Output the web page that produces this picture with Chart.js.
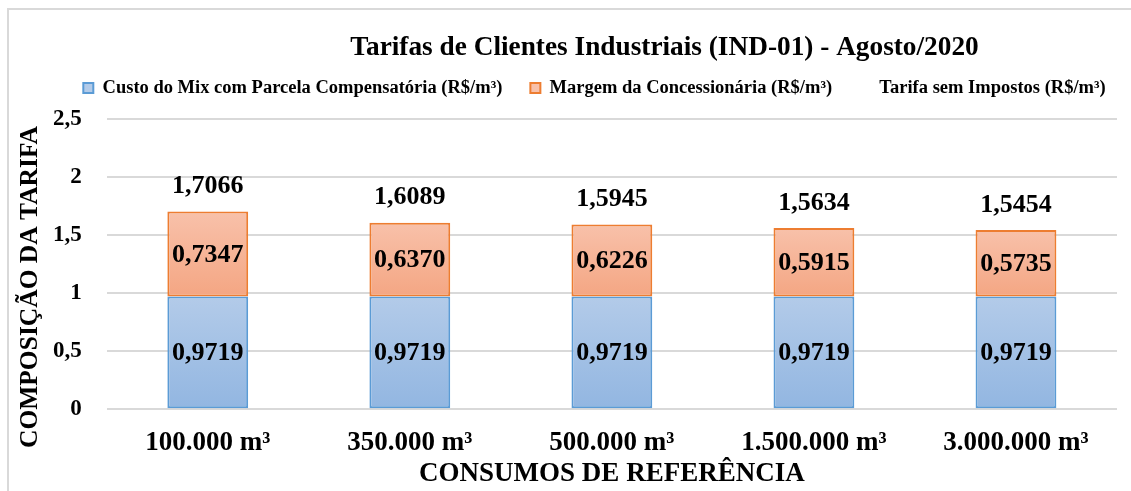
<!DOCTYPE html>
<html>
<head>
<meta charset="utf-8">
<script src="https://cdn.jsdelivr.net/npm/chart.js@4.4.1/dist/chart.umd.min.js"></script>
<style>
  html, body { margin: 0; padding: 0; background: #fff; }
  #frame { position: absolute; left: 7px; top: 8px; width: 1140px; height: 500px; border: 2px solid #d9d9d9; box-sizing: border-box; }
  #wrap { position: absolute; left: 0; top: 0; width: 1131px; height: 491px; }
</style>
</head>
<body>
<div id="frame"></div>
<div id="wrap"><canvas id="chartTarifas"></canvas></div>
<script>
// dados do gráfico
const consumos = ['100.000 m³', '350.000 m³', '500.000 m³', '1.500.000 m³', '3.000.000 m³'];
const custoMix = [0.9719, 0.9719, 0.9719, 0.9719, 0.9719];
const margem = [0.7347, 0.6370, 0.6226, 0.5915, 0.5735];
const tarifaSemImpostos = [1.7066, 1.6089, 1.5945, 1.5634, 1.5454];
const ticksY = ['0', '0,5', '1', '1,5', '2', '2,5'];
const tituloY = 'COMPOSIÇÃO DA TARIFA';

const FONTE = "'Liberation Serif', 'Times New Roman', serif";

function fmt(v) {
  return v.toFixed(4).replace('.', ',');
}

// gradiente vertical por barra (estilo Excel)
function gradiente(ctx, topoArr, baseArr, cTopo, cBase, fallback) {
  const chart = ctx.chart;
  const y = chart.scales && chart.scales.y;
  if (!y || !chart.chartArea || ctx.dataIndex === undefined) return fallback;
  const i = ctx.dataIndex;
  const yTop = y.getPixelForValue(topoArr[i]);
  const yBot = y.getPixelForValue(baseArr[i]);
  if (!isFinite(yTop) || !isFinite(yBot) || yTop === yBot) return fallback;
  const g = chart.ctx.createLinearGradient(0, yTop, 0, yBot);
  g.addColorStop(0, cTopo);
  g.addColorStop(1, cBase);
  return g;
}

const zeros = consumos.map(() => 0);

// título e legenda deslocados para a direita, como no original
const deslocar = {
  id: 'deslocar',
  afterLayout(chart) {
    if (chart.titleBlock) { chart.titleBlock.left += 92; chart.titleBlock.right += 92; }
    if (chart.legend) { chart.legend.left += 22; chart.legend.right += 22; }
  }
};

// título do eixo Y (posição do original, abaixo do centro)
const tituloEixoY = {
  id: 'tituloEixoY',
  afterDraw(chart) {
    const c = chart.ctx;
    c.save();
    c.translate(30, 287);
    c.rotate(-Math.PI / 2);
    c.font = 'bold 25.5px ' + FONTE;
    c.fillStyle = '#000';
    c.textAlign = 'center';
    c.textBaseline = 'middle';
    c.fillText(tituloY, 0, 0);
    c.restore();
  }
};

const rotulos = {
  id: 'rotulos',
  afterDatasetsDraw(chart) {
    const c = chart.ctx;
    c.save();
    c.font = 'bold 26px ' + FONTE;
    c.fillStyle = '#000';
    c.textAlign = 'center';
    c.textBaseline = 'middle';
    [0, 1].forEach(di => {
      const meta = chart.getDatasetMeta(di);
      meta.data.forEach((bar, i) => {
        const v = chart.data.datasets[di].data[i];
        c.fillText(fmt(v), bar.x, (bar.y + bar.base) / 2 + 1);
      });
    });
    const meta2 = chart.getDatasetMeta(2);
    meta2.data.forEach((pt, i) => {
      c.fillText(fmt(tarifaSemImpostos[i]), pt.x, pt.y - 25);
    });
    c.restore();
  }
};

new Chart(document.getElementById('chartTarifas'), {
  type: 'bar',
  data: {
    labels: consumos,
    datasets: [
      {
        label: 'Custo do Mix com Parcela Compensatória (R$/m³)',
        data: custoMix,
        backgroundColor: ctx => gradiente(ctx, custoMix, zeros, '#b3cbe9', '#92b6e1', '#a3c1e5'),
        borderColor: '#5b9bd5',
        borderWidth: 2,
        borderSkipped: false,
        stack: 's'
      },
      {
        label: 'Margem da Concessionária (R$/m³)',
        data: margem,
        backgroundColor: ctx => gradiente(ctx, tarifaSemImpostos, custoMix, '#f8c1aa', '#f4a683', '#f6b396'),
        borderColor: '#ed7d31',
        borderWidth: 2,
        borderSkipped: false,
        stack: 's'
      },
      {
        type: 'line',
        label: 'Tarifa sem Impostos (R$/m³)',
        data: tarifaSemImpostos,
        showLine: false,
        pointRadius: 0,
        borderColor: 'rgba(0,0,0,0)',
        backgroundColor: 'rgba(0,0,0,0)'
      }
    ]
  },
  options: {
    responsive: true,
    maintainAspectRatio: false,
    animation: false,
    layout: { padding: { left: 28, right: 14, top: 20, bottom: 1 } },
    datasets: { bar: { categoryPercentage: 0.8, barPercentage: 0.5 } },
    plugins: {
      tooltip: { enabled: false },
      title: {
        display: true,
        text: 'Tarifas de Clientes Industriais (IND-01) - Agosto/2020',
        color: '#000',
        font: { family: FONTE, size: 27.3, weight: 'bold' },
        padding: { top: 12, bottom: -14 }
      },
      // espaço vazio entre a legenda e a área do gráfico
      subtitle: {
        display: true,
        text: '',
        weight: 500,
        font: { size: 1 },
        padding: { top: 0, bottom: 11 }
      },
      legend: {
        position: 'top',
        labels: {
          color: '#000',
          font: { family: FONTE, size: 18.5, weight: 'bold' },
          boxWidth: 10,
          boxHeight: 10,
          padding: 28
        }
      }
    },
    scales: {
      x: {
        grid: { display: false },
        border: { display: false },
        ticks: { color: '#000', font: { family: FONTE, size: 27, weight: 'bold' }, padding: 10 },
        title: {
          display: true,
          text: 'CONSUMOS DE REFERÊNCIA',
          color: '#000',
          font: { family: FONTE, size: 27, weight: 'bold' },
          padding: { top: -12, bottom: 0 }
        }
      },
      y: {
        stacked: true,
        min: 0,
        max: 2.5,
        grid: { color: '#d9d9d9', lineWidth: 2, drawTicks: false },
        border: { display: false },
        ticks: {
          stepSize: 0.5,
          color: '#000',
          font: { family: FONTE, size: 23, weight: 'bold' },
          padding: 25,
          callback: (v, i) => ticksY[i]
        }
      }
    }
  },
  plugins: [rotulos, deslocar, tituloEixoY]
});
</script>
</body>
</html>
